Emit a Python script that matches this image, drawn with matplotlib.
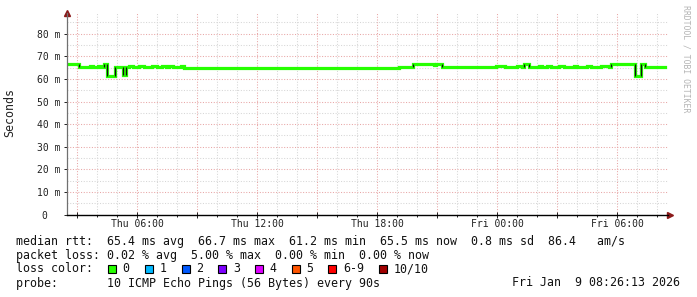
import matplotlib
matplotlib.use("Agg")
import matplotlib.pyplot as plt
from matplotlib.ticker import MultipleLocator, FuncFormatter
from matplotlib.patches import Rectangle

# median rtt, one value per segment (hours after Thu 00:00, ms)
seg_t = [2.48, 3.1, 3.65, 3.8, 4.05, 4.2, 4.33, 4.48, 4.89, 5.27, 5.44,
         5.6, 5.8, 6.1, 6.35, 6.75, 7.0, 7.25, 7.45, 7.6, 7.8, 8.2, 8.35,
         19.1, 19.8, 20.85, 20.95, 21.25,
         23.95, 24.4, 25.0, 25.25, 25.35, 25.6,
         26.1, 26.25, 26.5, 26.7, 27.1, 27.35, 27.85, 28.0, 28.5, 28.7,
         29.2, 29.6, 29.7, 30.9, 31.2, 31.4]
seg_ms = [66.6, 65.1, 65.5, 65.1, 65.5, 65.1, 66.4, 61.3, 65.1, 61.6, 65.1,
          65.5, 65.1, 65.5, 65.1, 65.5, 65.1, 65.5, 65.1, 65.5, 65.1, 65.5, 64.9,
          65.3, 66.7, 66.3, 66.7, 65.2,
          65.5, 65.2, 65.5, 65.2, 66.6, 65.2,
          65.5, 65.2, 65.5, 65.2, 65.5, 65.2, 65.5, 65.2, 65.5, 65.2,
          65.5, 65.2, 66.7, 61.3, 66.7, 65.2]
end_t = 32.4

x_ticks = [6, 12, 18, 24, 30]
x_labels = ["Thu 06:00", "Thu 12:00", "Thu 18:00", "Fri 00:00", "Fri 06:00"]

loss_labels = ["0", "1", "2", "3", "4", "5", "6-9", "10/10"]
loss_colors = ["#26ff00", "#00b8ff", "#0059ff", "#7e00ff", "#dd00ff",
               "#ff5500", "#ff0000", "#a10000"]

legend_rtt = "median rtt:  65.4 ms avg  66.7 ms max  61.2 ms min  65.5 ms now  0.8 ms sd  86.4   am/s"
legend_loss = "packet loss: 0.02 % avg  5.00 % max  0.00 % min  0.00 % now"
legend_probe = "probe:       10 ICMP Echo Pings (56 Bytes) every 90s"
stamp = "Fri Jan  9 08:26:13 2026"

mono = "DejaVu Sans Mono"
plt.rcParams["font.family"] = mono

W, H = 697, 297
fig = plt.figure(figsize=(W / 100, H / 100), dpi=100)
fig.patch.set_facecolor("white")

def fx(px):
    return px / W

def fy(py):
    return 1 - py / H

ax = fig.add_axes([fx(67), fy(214.7), fx(668) - fx(67), fy(13.3) - fy(214.7)])
ax.set_xlim(2.48, 32.53)
ax.set_ylim(0, 89)

# grid
ax.xaxis.set_major_locator(MultipleLocator(3))
ax.xaxis.set_minor_locator(MultipleLocator(1))
ax.yaxis.set_major_locator(MultipleLocator(10))
ax.yaxis.set_minor_locator(MultipleLocator(5))
ax.grid(which="major", color="#e8a6a6", ls=(0, (1, 1.6)), lw=0.75)
ax.grid(which="minor", color="#d6d6d6", ls=(0, (1, 1.6)), lw=0.75)
ax.set_axisbelow(True)

def xfmt(v, pos):
    for t, lab in zip(x_ticks, x_labels):
        if abs(v - t) < 1e-6:
            return lab
    return ""

def yfmt(v, pos):
    if v == 0:
        return "0  "
    return "%d m" % v

ax.xaxis.set_major_formatter(FuncFormatter(xfmt))
ax.yaxis.set_major_formatter(FuncFormatter(yfmt))
ax.tick_params(axis="x", which="major", direction="inout", length=4, width=0.7,
               pad=1.2, labelsize=7, colors="#222222")
ax.tick_params(axis="x", which="minor", direction="out", length=1.5, width=0.6)
ax.tick_params(axis="y", which="major", direction="out", length=2, width=0.7,
               pad=3, labelsize=7, colors="#222222")
ax.tick_params(axis="y", which="minor", length=0)

for s in ["top", "right"]:
    ax.spines[s].set_visible(False)
ax.spines["left"].set_color("#707070")
ax.spines["left"].set_linewidth(0.9)
ax.spines["bottom"].set_color("black")
ax.spines["bottom"].set_linewidth(1.0)

# arrows at axis ends
ax.plot([0], [1.0], marker="^", ms=4, color="#8b1a1a", transform=ax.transAxes, clip_on=False)
ax.plot([1.004], [0], marker=">", ms=4, color="#8b1a1a", transform=ax.transAxes, clip_on=False)

# data: green median line, dark strokes where it jumps far
ax.step(seg_t + [end_t], seg_ms + [seg_ms[-1]], where="post",
        color=loss_colors[0], lw=2.3, solid_joinstyle="miter")
jump_t, jump_lo, jump_hi = [], [], []
for i in range(1, len(seg_t)):
    if abs(seg_ms[i] - seg_ms[i - 1]) > 1.0:
        jump_t.append(seg_t[i])
        jump_lo.append(min(seg_ms[i], seg_ms[i - 1]))
        jump_hi.append(max(seg_ms[i], seg_ms[i - 1]))
ax.vlines(jump_t, jump_lo, jump_hi, colors="#111111", lw=0.9)

fig.text(fx(10), fy(113), "Seconds", rotation=90, ha="center", va="center",
         fontsize=8.4, color="#222222")

# watermark
fig.text(fx(686), fy(5), "RRDTOOL / TOBI OETIKER", rotation=270, ha="center", va="top",
         fontsize=5.9, color="#b4b4b4")

# legend block
fs = 8.4
fig.text(fx(16), fy(241), legend_rtt, ha="left", va="center", fontsize=fs, color="#111111")
fig.text(fx(16), fy(255), legend_loss, ha="left", va="center", fontsize=fs, color="#111111")
fig.text(fx(16), fy(269), "loss color:", ha="left", va="center", fontsize=fs, color="#111111")
fig.text(fx(16), fy(283), legend_probe, ha="left", va="center", fontsize=fs, color="#111111")
fig.text(fx(680), fy(283), stamp, ha="right", va="center", fontsize=fs, color="#111111")

bx = 108.3
for lab, col in zip(loss_labels, loss_colors):
    fig.add_artist(Rectangle((fx(bx), fy(273)), fx(8), fy(265) - fy(273),
                             transform=fig.transFigure, facecolor=col,
                             edgecolor="black", lw=0.8))
    fig.text(fx(bx + 14.4), fy(269), lab, ha="left", va="center", fontsize=fs, color="#111111")
    bx += 14.4 + 7.0 * len(lab) + 15.3

fig.savefig("out.png", dpi=100, facecolor="white")
